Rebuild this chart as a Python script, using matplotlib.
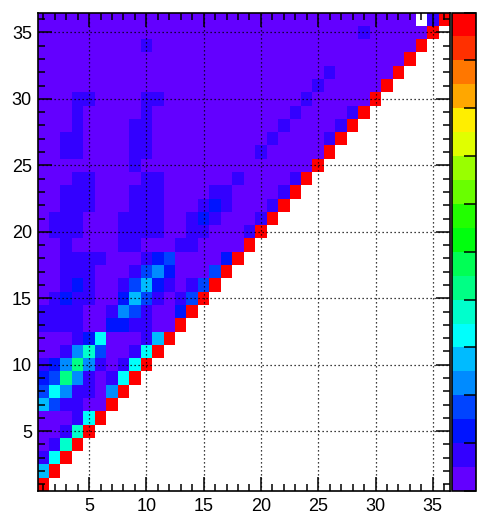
import numpy as np
import matplotlib
matplotlib.use("Agg")
import matplotlib.pyplot as plt
from matplotlib import colors
from matplotlib.ticker import MultipleLocator

plt.rcParams['font.family'] = ['Liberation Sans', 'DejaVu Sans']

NBINS = 36
# correlation matrix, one string per y bin (bin 1 first).
# each char is the colour level of x bin 1,2,...: level d ~ (d+0.5)/20, X = 1.0
rows = [
    "X",
    "5X",
    "16X",
    "017X",
    "0017X",
    "00016X",
    "531100X",
    "3641104X",
    "23841016X",
    "124841016X",
    "0014730016X",
    "00012600015X",
    "111100221100X",
    "1111001431002X",
    "01211002531013X",
    "0012100135210 13X".replace(" ", ""),
    "0011100013420003X",
    "00111100012300002X",
    "001000011000110000X",
    "0111000111100110001X",
    "01110001111001210001X",
    "001110001110001210001X",
    "0011100011100001100001X",
    "00011000011000000100001X",
    "000000001000000000000000X",
    "0011000011000000000100000X",
    "00110000110000000000100001X",
    "000100001100000000000100001X",
    "0001000001000000000000100001X",
    "00011000011000000000000100000X",
    "000000000000000000000000100000X",
    "0000000000000000000000000100000X",
    "00000000000000000000000000000000X",
    "000000000100000000000000000000000X",
    "0000000000000000000000000000100000X",
    "000000000000000000000000000000000.1X",
]

z = np.full((NBINS, NBINS), np.nan)
for j, row in enumerate(rows):
    assert len(row) == j + 1, (j, len(row))
    for i, c in enumerate(row):
        if c == "X":
            z[j, i] = 1.0
        elif c != ".":
            z[j, i] = (int(c) + 0.5) / 20.0

# ROOT "pretty" palette with 20 contours
nlev = 20
cols = []
for k in range(nlev):
    idx = int((k + 0.99) * 50 / nlev)
    hue = 0.0 if idx >= 49 else 280.0 - (idx + 1) * 5.6
    cols.append(colors.hsv_to_rgb((hue / 360.0, 1.0, 1.0)))
cmap = colors.ListedColormap(cols)
norm = colors.BoundaryNorm(np.linspace(0, 1, nlev + 1), nlev)

fig = plt.figure(figsize=(4.79, 5.14), dpi=100)
W, H = 479.0, 514.0
ax = fig.add_axes([37.5 / W, 1 - 491 / H, (450 - 37.5) / W, (491 - 12.5) / H])
cax = fig.add_axes([452 / W, 1 - 491 / H, 23.5 / W, (491 - 12.5) / H])

edges = np.arange(0.5, NBINS + 1, 1.0)
mesh = ax.pcolormesh(edges, edges, np.ma.masked_invalid(z), cmap=cmap, norm=norm, zorder=1)

ax.set_xlim(0.5, 36.5)
ax.set_ylim(0.5, 36.5)
ax.xaxis.set_major_locator(MultipleLocator(5))
ax.yaxis.set_major_locator(MultipleLocator(5))
ax.xaxis.set_minor_locator(MultipleLocator(1))
ax.yaxis.set_minor_locator(MultipleLocator(1))
ax.grid(True, which='major', color='black', linestyle=(0, (1, 2.2)), linewidth=0.9, zorder=3)
ax.set_axisbelow(False)
ax.tick_params(which='both', direction='in', top=True, right=True, width=1.1, labelsize=13)
ax.tick_params(which='major', length=10)
ax.tick_params(which='minor', length=5)
ax.tick_params(axis='x', pad=5)
ax.tick_params(axis='y', pad=4)
for s in ax.spines.values():
    s.set_linewidth(1.2)

cb = fig.colorbar(mesh, cax=cax, ticks=np.linspace(0, 1, 11))
cb.outline.set_linewidth(1.2)
cax.tick_params(direction='in', length=8.5, width=1.1, right=True, left=False, labelsize=13, pad=2)
cax.set_yticklabels(["0", "0.1", "0.2", "0.3", "0.4", "0.5", "0.6", "0.7", "0.8", "0.9", "1"])
cax.minorticks_off()

fig.savefig("out.png", dpi=100)
